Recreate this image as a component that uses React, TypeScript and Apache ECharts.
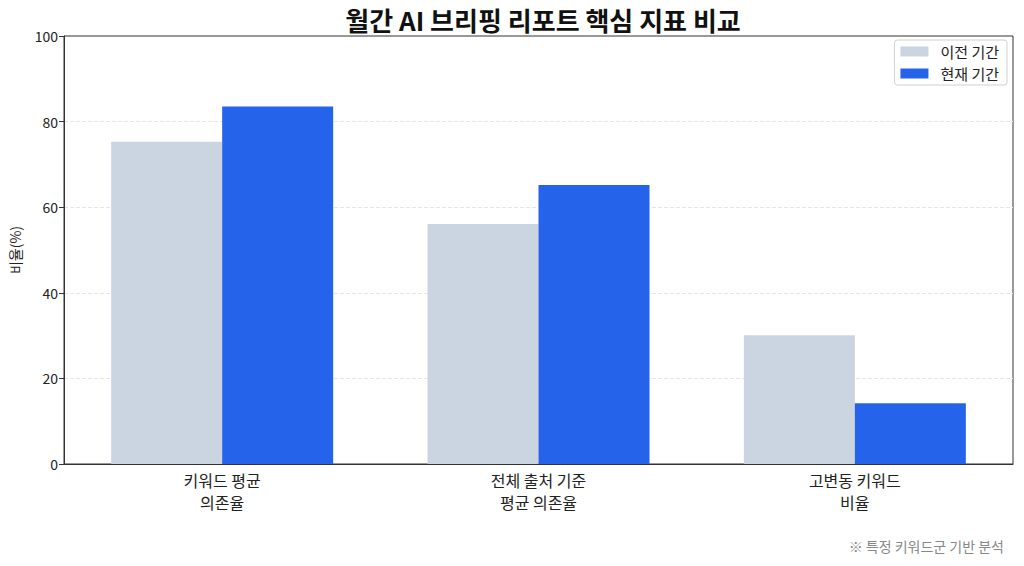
import * as echarts from "echarts";
import { useEffect, useRef } from "react";

const categories = ["키워드 평균\n의존율", "전체 출처 기준\n평균 의존율", "고변동 키워드\n비율"];
const previousPeriod = [75.3, 56.1, 30.1];
const currentPeriod = [83.5, 65.2, 14.2];
const seriesNames = ["이전 기간", "현재 기간"];

const FONT = "'Noto Sans CJK KR', 'Noto Sans', sans-serif";

const App: React.FC = () => {
  const chartRef = useRef<HTMLDivElement>(null);

  useEffect(() => {
    if (!chartRef.current) return;
    const chart = echarts.init(chartRef.current, undefined, { renderer: "svg" });

    chart.setOption({
      animation: false,
      backgroundColor: "#ffffff",
      textStyle: { fontFamily: FONT },
      title: {
        text: "월간 AI 브리핑 리포트 핵심 지표 비교",
        left: 538,
        textAlign: "center",
        top: 1,
        textStyle: { fontFamily: FONT, fontSize: 26, fontWeight: "bold", color: "#111" },
      },
      legend: {
        data: seriesNames,
        orient: "vertical",
        right: 17,
        top: 40,
        padding: [4, 8, 4, 6],
        icon: "rect",
        itemWidth: 28,
        itemHeight: 10,
        itemGap: 7,
        borderColor: "#d0d0d0",
        borderWidth: 1,
        borderRadius: 3,
        backgroundColor: "rgba(255,255,255,0.9)",
        textStyle: { fontFamily: FONT, fontSize: 15, color: "#222", padding: [0, 0, 0, 7] },
      },
      graphic: [
        {
          type: "text",
          right: 20,
          top: 539,
          style: {
            text: "※ 특정 키워드군 기반 분석",
            fill: "#888",
            font: `14px ${FONT}`,
          },
        },
      ],
      grid: {
        left: 64,
        right: 11,
        top: 36,
        bottom: 102,
        show: true,
        borderColor: "#333",
        borderWidth: 1,
      },
      xAxis: {
        type: "category",
        data: categories,
        axisLine: { lineStyle: { color: "#333" } },
        axisTick: { alignWithLabel: true, length: 5, lineStyle: { color: "#333" } },
        axisLabel: { fontFamily: FONT, fontSize: 16, color: "#222", lineHeight: 22, margin: 5 },
      },
      yAxis: {
        type: "value",
        min: 0,
        max: 100,
        interval: 20,
        name: "비율(%)",
        nameLocation: "middle",
        nameGap: 42,
        nameRotate: 90,
        nameTextStyle: { fontFamily: FONT, fontSize: 14, color: "#222" },
        axisLine: { show: true, lineStyle: { color: "#333" } },
        axisTick: { show: true, length: 5, lineStyle: { color: "#333" } },
        axisLabel: { fontFamily: FONT, fontSize: 14, color: "#222", margin: 6 },
        splitLine: {
          showMinLine: false,
          showMaxLine: false,
          lineStyle: { color: "#e6e6e6", type: "dashed" },
        },
      },
      series: [
        {
          name: seriesNames[0],
          type: "bar",
          data: previousPeriod,
          barWidth: 111,
          barGap: "0%",
          itemStyle: { color: "#cbd5e1" },
        },
        {
          name: seriesNames[1],
          type: "bar",
          data: currentPeriod,
          barWidth: 111,
          itemStyle: { color: "#2563eb" },
        },
      ],
    });

    return () => {
      chart.dispose();
    };
  }, []);

  return (
    <div
      ref={chartRef}
      style={{ position: "fixed", left: 0, top: 0, width: "1024px", height: "566px" }}
    />
  );
};

export default App;
